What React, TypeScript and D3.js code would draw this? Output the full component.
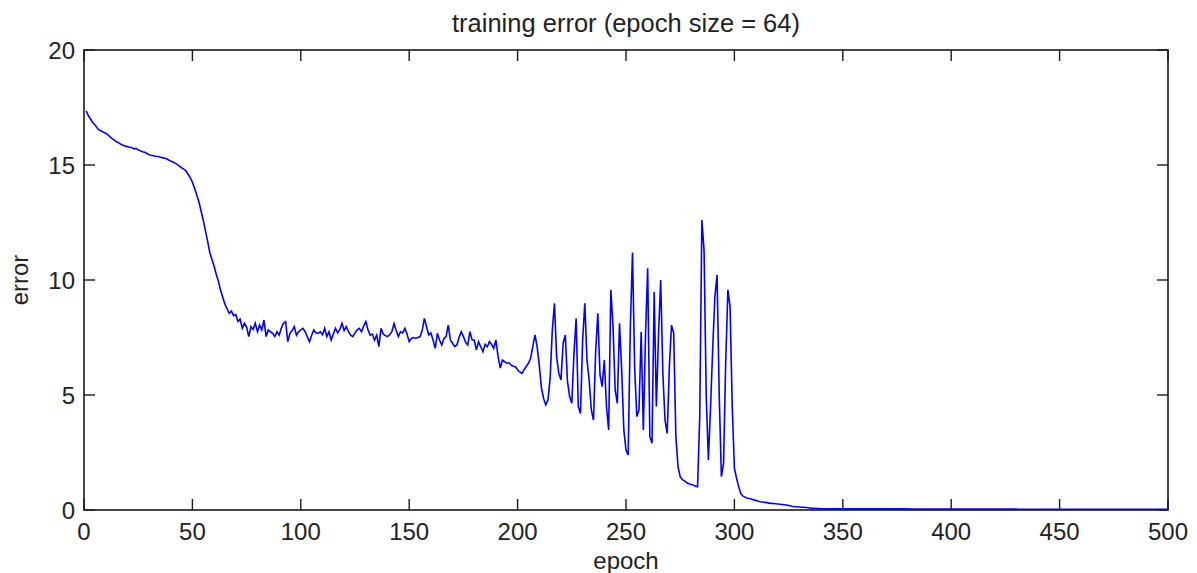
import React from "react";
import * as d3 from "d3";

// ---- data (training error per epoch) ----
const earlyStart = 1;
const errEarly = [
  17.35, 17.15, 17.0, 16.85, 16.75, 16.62, 16.52, 16.48, 16.42, 16.38,
  16.32, 16.22, 16.15, 16.08, 16.01, 15.97, 15.9, 15.86, 15.82, 15.8,
  15.77, 15.76, 15.7, 15.72, 15.65, 15.62, 15.58, 15.55, 15.5, 15.45,
  15.42, 15.4, 15.38, 15.37, 15.35, 15.32, 15.3, 15.27, 15.22, 15.17,
  15.13, 15.08, 15.03, 14.95, 14.88, 14.82, 14.75, 14.6, 14.45, 14.25,
  14.0, 13.7, 13.4, 13.0, 12.6, 12.15, 11.7, 11.2, 10.9, 10.6,
  10.25, 9.95, 9.55, 9.25, 8.95, 8.75, 8.55, 8.65, 8.45, 8.5,
];

const plateauStart = 71;
const errPlateau = [
  8.2, 8.3, 7.9, 8.12, 7.95, 7.54, 7.97, 7.85, 8.12, 7.75,
  8.04, 7.83, 8.26, 7.54, 7.83, 7.75, 7.68, 7.54, 7.75, 7.6,
  7.9, 8.12, 8.19, 7.32, 7.68, 7.8, 7.97, 7.6, 7.75, 7.83,
  7.9, 7.75, 7.54, 7.32, 7.6, 7.83, 7.7, 7.68, 7.75, 7.62,
  7.9, 7.54, 7.75, 7.39, 7.65, 7.9, 7.7, 7.85, 8.12, 7.8,
  7.97, 7.75, 7.6, 7.54, 7.7, 7.83, 7.9, 7.75, 8.0, 8.19,
  7.83, 7.6, 7.65, 7.39, 7.6, 7.1, 7.9, 7.65, 7.58, 7.54,
  7.62, 7.75, 8.1, 7.8, 7.54, 7.75, 7.7, 7.9, 7.65, 7.32,
  7.46, 7.5, 7.46, 7.5, 7.54, 7.8, 8.33, 7.97, 7.61, 7.7,
  7.39, 7.03, 7.68, 7.39, 7.17, 7.45, 7.54, 8.04, 7.39, 7.25,
  7.1, 7.17, 7.5, 7.75, 7.54, 7.3, 7.17, 7.75, 7.4, 7.39,
  6.96, 7.32, 7.1, 6.88, 7.2, 7.1, 7.32, 7.2, 7.03, 7.39,
  6.67, 6.17, 6.52, 6.45, 6.38, 6.4, 6.3, 6.25, 6.23, 6.1,
];

const oscStart = 201;
const errOscillation = [
  6.0, 5.94, 6.1, 6.25, 6.38, 6.6, 7.1, 7.61, 7.1, 6.3,
  5.3, 4.85, 4.57, 4.78, 5.72, 7.8, 8.99, 6.67, 5.94, 5.65,
  7.25, 7.61, 5.6, 4.93, 4.64, 6.81, 8.33, 4.49, 4.2, 7.39,
  8.99, 6.52, 5.65, 4.35, 3.91, 6.88, 8.55, 5.9, 5.36, 6.52,
  4.49, 3.48, 9.57, 8.0, 5.22, 4.64, 8.12, 6.09, 3.48, 2.61,
  2.39, 7.97, 11.2, 6.16, 4.06, 4.35, 7.75, 3.48, 7.61, 10.51,
  3.19, 2.9, 9.49, 4.5, 7.61, 10.0, 5.94, 3.91, 3.33, 6.23,
  8.04, 7.68, 3.19, 1.88, 1.45, 1.32, 1.27, 1.18, 1.14, 1.11,
  1.09, 1.03, 1.01, 4.0, 12.61, 11.3, 5.0, 2.17, 4.49, 7.03,
  9.28, 10.22, 5.0, 1.45, 2.03, 6.5, 9.57, 8.84, 4.5, 1.81,
  1.38, 1.01, 0.7, 0.6, 0.56, 0.51,
];

const tailStart = 307;
const errTail = [
  0.5, 0.47, 0.44, 0.41, 0.38, 0.36, 0.35, 0.33, 0.32, 0.3,
  0.29, 0.28, 0.27, 0.26, 0.25, 0.24, 0.23, 0.22, 0.2, 0.17,
  0.15, 0.14, 0.14, 0.13, 0.12, 0.12, 0.11, 0.1, 0.08, 0.07,
  0.07, 0.06, 0.06, 0.05,
  0.05, 0.05, 0.05, 0.05, 0.05, 0.05, 0.05, 0.05, 0.05, 0.05,
  0.05, 0.05, 0.05, 0.05, 0.05, 0.05, 0.05, 0.05, 0.05, 0.05,
  0.05, 0.05, 0.05, 0.05, 0.05, 0.05, 0.05, 0.05, 0.05, 0.05,
  0.05, 0.05, 0.05, 0.05, 0.05, 0.05, 0.05, 0.05, 0.05, 0.05,
  0.04, 0.04, 0.04, 0.04, 0.04, 0.04, 0.04, 0.04, 0.04, 0.04,
  0.04, 0.04, 0.04, 0.04, 0.04, 0.04, 0.04, 0.04, 0.04, 0.04,
  0.04, 0.04, 0.04, 0.04, 0.04, 0.04, 0.04, 0.04, 0.04, 0.04,
  0.04, 0.04, 0.04, 0.04, 0.04, 0.04, 0.04, 0.04, 0.04, 0.04,
  0.04, 0.04, 0.04, 0.04, 0.04, 0.04, 0.04, 0.04, 0.04, 0.04,
  0.03, 0.03, 0.03, 0.03, 0.03, 0.03, 0.03, 0.03, 0.03, 0.03,
  0.03, 0.03, 0.03, 0.03, 0.03, 0.03, 0.03, 0.03, 0.03, 0.03,
  0.03, 0.03, 0.03, 0.03, 0.03, 0.03, 0.03, 0.03, 0.03, 0.03,
  0.03, 0.03, 0.03, 0.03, 0.03, 0.03, 0.03, 0.03, 0.03, 0.03,
  0.03, 0.03, 0.03, 0.03, 0.03, 0.03, 0.03, 0.03, 0.03, 0.03,
  0.03, 0.03, 0.03, 0.03, 0.03, 0.03, 0.03, 0.03, 0.03, 0.03,
  0.03, 0.03, 0.03, 0.03, 0.03, 0.03, 0.03, 0.03, 0.03, 0.03,
];

const xTickValues = [0, 50, 100, 150, 200, 250, 300, 350, 400, 450, 500];
const yTickValues = [0, 5, 10, 15, 20];
const titleText = "training error (epoch size = 64)";
const xLabelText = "epoch";
const yLabelText = "error";

type Pt = { epoch: number; value: number };
function segment(start: number, values: number[]): Pt[] {
  return values.map((v, i) => ({ epoch: start + i, value: v }));
}

const series: Pt[] = [
  ...segment(earlyStart, errEarly),
  ...segment(plateauStart, errPlateau),
  ...segment(oscStart, errOscillation),
  ...segment(tailStart, errTail),
].filter((p) => p.epoch <= 500);

export default function App() {
  const W = 1197;
  const H = 573;
  const left = 84;
  const right = 1168;
  const top = 50;
  const bottom = 510;
  const tickLen = 11;
  const font = "Arial, 'Liberation Sans', Helvetica, sans-serif";
  const axisColor = "#1a1a1a";

  const x = d3.scaleLinear().domain([0, 500]).range([left, right]);
  const y = d3.scaleLinear().domain([0, 20]).range([bottom, top]);

  const line = d3
    .line<Pt>()
    .x((d) => x(d.epoch))
    .y((d) => y(d.value));

  return (
    <svg
      width={W}
      height={H}
      style={{ position: "absolute", left: 0, top: 0, background: "#fff" }}
      fontFamily={font}
    >
      <rect x={0} y={0} width={W} height={H} fill="#fff" />
      {/* box */}
      <rect
        x={left}
        y={top}
        width={right - left}
        height={bottom - top}
        fill="none"
        stroke={axisColor}
        strokeWidth={1.6}
      />
      {/* x ticks */}
      {xTickValues.map((t) => (
        <g key={"x" + t}>
          <line x1={x(t)} x2={x(t)} y1={bottom} y2={bottom - tickLen} stroke={axisColor} strokeWidth={1.4} />
          <line x1={x(t)} x2={x(t)} y1={top} y2={top + tickLen} stroke={axisColor} strokeWidth={1.4} />
          <text x={x(t)} y={540} textAnchor="middle" fontSize={24} fill="#222">
            {t}
          </text>
        </g>
      ))}
      {/* y ticks */}
      {yTickValues.map((t) => (
        <g key={"y" + t}>
          <line x1={left} x2={left + tickLen} y1={y(t)} y2={y(t)} stroke={axisColor} strokeWidth={1.4} />
          <line x1={right} x2={right - tickLen} y1={y(t)} y2={y(t)} stroke={axisColor} strokeWidth={1.4} />
          <text x={75} y={y(t) + 9} textAnchor="end" fontSize={24} fill="#222">
            {t}
          </text>
        </g>
      ))}
      {/* data line */}
      <path d={line(series) || ""} fill="none" stroke="#0000ff" strokeWidth={1.6} strokeLinejoin="miter" />
      {/* title & labels */}
      <text x={(left + right) / 2} y={32} textAnchor="middle" fontSize={25.5} fill="#222">
        {titleText}
      </text>
      <text x={(left + right) / 2} y={569} textAnchor="middle" fontSize={24} fill="#222">
        {xLabelText}
      </text>
      <text
        transform={`translate(28, ${(top + bottom) / 2}) rotate(-90)`}
        textAnchor="middle"
        fontSize={24}
        fill="#222"
      >
        {yLabelText}
      </text>
    </svg>
  );
}
